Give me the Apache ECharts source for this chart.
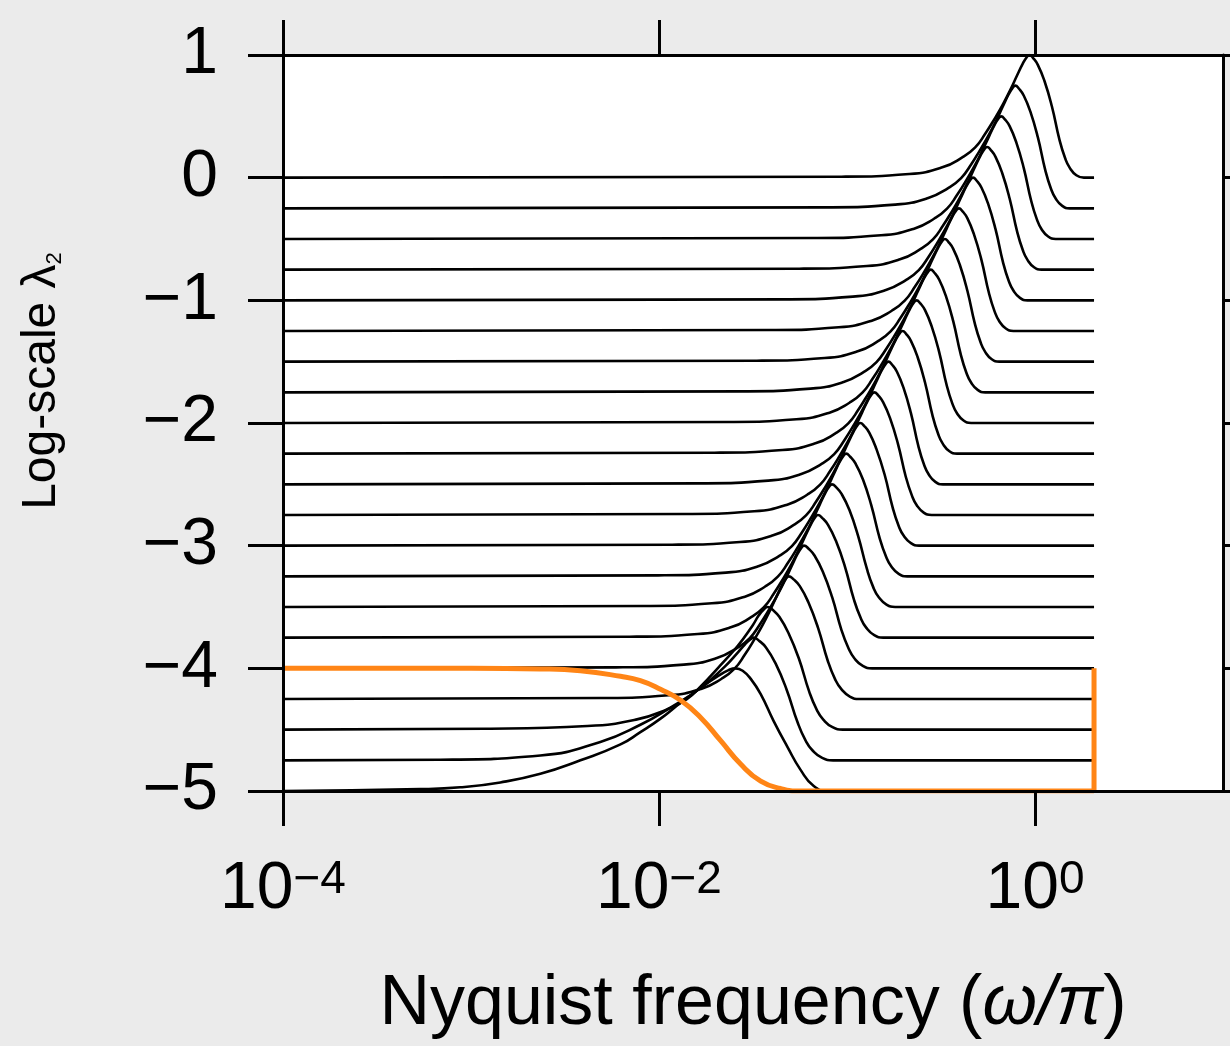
<!DOCTYPE html>
<html><head><meta charset="utf-8">
<script src="https://cdn.jsdelivr.net/npm/echarts@6/dist/echarts.min.js"></script>
<style>html,body{margin:0;padding:0;background:#ebebeb;}#c{width:1230px;height:1046px;}</style>
</head><body><div id="c"></div>
<script>
// x values are log10(omega/pi) exponents; y values are log10(lambda2)
const xTickValues = [1e-4, 1e-2, 1];
const yTickValues = [-5, -4, -3, -2, -1, 0, 1];
const xAxisTitle = 'Nyquist frequency';
const yAxisTitle = 'Log-scale λ';

const c0 = [[-4,0],[-1.030,0.008],[-0.669,0.03],[-0.493,0.084],[-0.387,0.165],[-0.318,0.247],[-0.264,0.36],[-0.211,0.49],[-0.170,0.6],[-0.130,0.72],[-0.095,0.835],[-0.065,0.93],[-0.045,0.98],[-0.030,1],[-0.010,0.975],[0.015,0.92],[0.050,0.79],[0.090,0.58],[0.130,0.31],[0.160,0.16],[0.185,0.08],[0.220,0.02],[0.260,0],[0.314,0]];
const c1 = [[-4,-0.25],[-1.105,-0.242],[-0.744,-0.22],[-0.568,-0.166],[-0.462,-0.085],[-0.393,-0.003],[-0.339,0.11],[-0.286,0.24],[-0.245,0.35],[-0.205,0.47],[-0.170,0.585],[-0.140,0.68],[-0.120,0.73],[-0.105,0.75],[-0.085,0.725],[-0.060,0.67],[-0.025,0.54],[0.015,0.33],[0.055,0.06],[0.085,-0.09],[0.110,-0.17],[0.145,-0.23],[0.185,-0.25],[0.314,-0.25]];
const c2 = [[-4,-0.5],[-1.180,-0.492],[-0.819,-0.47],[-0.643,-0.416],[-0.537,-0.335],[-0.468,-0.253],[-0.414,-0.14],[-0.361,-0.01],[-0.320,0.1],[-0.280,0.22],[-0.245,0.335],[-0.215,0.43],[-0.195,0.48],[-0.180,0.5],[-0.160,0.475],[-0.135,0.42],[-0.100,0.29],[-0.060,0.08],[-0.020,-0.19],[0.010,-0.34],[0.035,-0.42],[0.070,-0.48],[0.110,-0.5],[0.314,-0.5]];
const c3 = [[-4,-0.75],[-1.255,-0.742],[-0.894,-0.72],[-0.718,-0.666],[-0.612,-0.585],[-0.543,-0.503],[-0.489,-0.39],[-0.436,-0.26],[-0.395,-0.15],[-0.355,-0.03],[-0.320,0.085],[-0.290,0.18],[-0.270,0.23],[-0.255,0.25],[-0.235,0.225],[-0.210,0.17],[-0.175,0.04],[-0.135,-0.17],[-0.095,-0.44],[-0.065,-0.59],[-0.040,-0.67],[-0.005,-0.73],[0.035,-0.75],[0.314,-0.75]];
const c4 = [[-4,-1],[-1.330,-0.992],[-0.969,-0.97],[-0.793,-0.916],[-0.687,-0.835],[-0.618,-0.753],[-0.564,-0.64],[-0.511,-0.51],[-0.470,-0.4],[-0.430,-0.28],[-0.395,-0.165],[-0.365,-0.07],[-0.345,-0.02],[-0.330,0],[-0.310,-0.025],[-0.285,-0.08],[-0.250,-0.21],[-0.210,-0.42],[-0.170,-0.69],[-0.140,-0.84],[-0.115,-0.92],[-0.080,-0.98],[-0.040,-1],[0.314,-1]];
const c5 = [[-4,-1.25],[-1.405,-1.242],[-1.044,-1.22],[-0.868,-1.166],[-0.762,-1.085],[-0.693,-1.003],[-0.639,-0.89],[-0.586,-0.76],[-0.545,-0.65],[-0.505,-0.53],[-0.470,-0.415],[-0.440,-0.32],[-0.420,-0.27],[-0.405,-0.25],[-0.385,-0.275],[-0.360,-0.33],[-0.325,-0.46],[-0.285,-0.67],[-0.245,-0.94],[-0.215,-1.09],[-0.190,-1.17],[-0.155,-1.23],[-0.115,-1.25],[0.314,-1.25]];
const c6 = [[-4,-1.5],[-1.480,-1.492],[-1.119,-1.47],[-0.943,-1.416],[-0.837,-1.335],[-0.768,-1.253],[-0.714,-1.14],[-0.661,-1.01],[-0.620,-0.9],[-0.580,-0.78],[-0.545,-0.665],[-0.515,-0.57],[-0.495,-0.52],[-0.480,-0.5],[-0.460,-0.525],[-0.435,-0.58],[-0.400,-0.71],[-0.360,-0.92],[-0.320,-1.19],[-0.290,-1.34],[-0.265,-1.42],[-0.230,-1.48],[-0.190,-1.5],[0.314,-1.5]];
const c7 = [[-4,-1.75],[-1.555,-1.742],[-1.194,-1.72],[-1.018,-1.666],[-0.912,-1.585],[-0.843,-1.503],[-0.789,-1.39],[-0.736,-1.26],[-0.695,-1.15],[-0.655,-1.03],[-0.620,-0.915],[-0.590,-0.82],[-0.570,-0.77],[-0.555,-0.75],[-0.535,-0.775],[-0.510,-0.83],[-0.475,-0.96],[-0.435,-1.17],[-0.395,-1.44],[-0.365,-1.59],[-0.340,-1.67],[-0.305,-1.73],[-0.265,-1.75],[0.314,-1.75]];
const c8 = [[-4,-2],[-1.630,-1.992],[-1.269,-1.97],[-1.093,-1.916],[-0.987,-1.835],[-0.918,-1.753],[-0.864,-1.64],[-0.811,-1.51],[-0.770,-1.4],[-0.730,-1.28],[-0.695,-1.165],[-0.665,-1.07],[-0.645,-1.02],[-0.630,-1],[-0.610,-1.025],[-0.585,-1.08],[-0.550,-1.21],[-0.510,-1.42],[-0.470,-1.69],[-0.440,-1.84],[-0.415,-1.92],[-0.380,-1.98],[-0.340,-2],[0.314,-2]];
const c9 = [[-4,-2.25],[-1.705,-2.242],[-1.344,-2.22],[-1.168,-2.166],[-1.062,-2.085],[-0.993,-2.003],[-0.939,-1.89],[-0.886,-1.76],[-0.845,-1.65],[-0.805,-1.53],[-0.770,-1.415],[-0.740,-1.32],[-0.720,-1.27],[-0.705,-1.25],[-0.685,-1.275],[-0.660,-1.33],[-0.625,-1.46],[-0.585,-1.67],[-0.545,-1.94],[-0.515,-2.09],[-0.490,-2.17],[-0.455,-2.23],[-0.415,-2.25],[0.314,-2.25]];
const c10 = [[-4,-2.5],[-1.780,-2.492],[-1.419,-2.47],[-1.243,-2.416],[-1.137,-2.335],[-1.068,-2.253],[-1.014,-2.14],[-0.961,-2.01],[-0.920,-1.9],[-0.880,-1.78],[-0.845,-1.665],[-0.815,-1.57],[-0.795,-1.52],[-0.780,-1.5],[-0.760,-1.525],[-0.735,-1.58],[-0.700,-1.71],[-0.660,-1.92],[-0.620,-2.19],[-0.590,-2.34],[-0.565,-2.42],[-0.530,-2.48],[-0.490,-2.5],[0.314,-2.5]];
const c11 = [[-4,-2.75],[-1.855,-2.742],[-1.494,-2.72],[-1.318,-2.666],[-1.212,-2.585],[-1.143,-2.503],[-1.089,-2.39],[-1.036,-2.26],[-0.995,-2.15],[-0.955,-2.03],[-0.920,-1.915],[-0.890,-1.82],[-0.870,-1.77],[-0.855,-1.75],[-0.834,-1.775],[-0.808,-1.83],[-0.771,-1.96],[-0.729,-2.17],[-0.687,-2.44],[-0.655,-2.59],[-0.629,-2.67],[-0.592,-2.73],[-0.550,-2.75],[0.314,-2.75]];
const c12 = [[-4,-3],[-1.930,-2.992],[-1.569,-2.97],[-1.393,-2.916],[-1.287,-2.835],[-1.218,-2.753],[-1.164,-2.64],[-1.111,-2.51],[-1.070,-2.4],[-1.030,-2.28],[-0.995,-2.165],[-0.965,-2.07],[-0.945,-2.02],[-0.930,-2],[-0.908,-2.025],[-0.881,-2.08],[-0.844,-2.21],[-0.800,-2.42],[-0.757,-2.69],[-0.725,-2.84],[-0.698,-2.92],[-0.660,-2.98],[-0.617,-3],[0.314,-3]];
const c13 = [[-4,-3.25],[-2.005,-3.242],[-1.644,-3.22],[-1.468,-3.166],[-1.362,-3.085],[-1.293,-3.003],[-1.239,-2.89],[-1.186,-2.76],[-1.145,-2.65],[-1.105,-2.53],[-1.070,-2.415],[-1.040,-2.32],[-1.020,-2.27],[-1.005,-2.25],[-0.983,-2.275],[-0.955,-2.33],[-0.915,-2.46],[-0.871,-2.67],[-0.826,-2.94],[-0.792,-3.09],[-0.764,-3.17],[-0.725,-3.23],[-0.680,-3.25],[0.314,-3.25]];
const c14 = [[-4,-3.5],[-2.080,-3.492],[-1.719,-3.47],[-1.543,-3.416],[-1.437,-3.335],[-1.368,-3.253],[-1.314,-3.14],[-1.261,-3.01],[-1.220,-2.9],[-1.180,-2.78],[-1.145,-2.665],[-1.115,-2.57],[-1.095,-2.52],[-1.080,-2.5],[-1.057,-2.525],[-1.028,-2.58],[-0.987,-2.71],[-0.941,-2.92],[-0.894,-3.19],[-0.860,-3.34],[-0.831,-3.42],[-0.790,-3.48],[-0.744,-3.5],[0.314,-3.5]];
const c15 = [[-4,-3.75],[-2.155,-3.742],[-1.794,-3.72],[-1.618,-3.666],[-1.512,-3.585],[-1.443,-3.503],[-1.389,-3.39],[-1.336,-3.26],[-1.295,-3.15],[-1.255,-3.03],[-1.220,-2.915],[-1.190,-2.82],[-1.170,-2.77],[-1.155,-2.75],[-1.131,-2.775],[-1.101,-2.83],[-1.059,-2.96],[-1.011,-3.17],[-0.963,-3.44],[-0.927,-3.59],[-0.897,-3.67],[-0.855,-3.73],[-0.807,-3.75],[0.314,-3.75]];
const c16 = [[-4,-4],[-2.229,-3.992],[-1.868,-3.97],[-1.692,-3.916],[-1.586,-3.835],[-1.517,-3.753],[-1.463,-3.64],[-1.410,-3.51],[-1.369,-3.4],[-1.329,-3.28],[-1.294,-3.165],[-1.264,-3.07],[-1.244,-3.02],[-1.229,-3],[-1.204,-3.025],[-1.173,-3.08],[-1.129,-3.21],[-1.079,-3.42],[-1.029,-3.69],[-0.991,-3.84],[-0.960,-3.92],[-0.916,-3.98],[-0.866,-4],[0.314,-4]];
const c17 = [[-4,-4.25],[-2.310,-4.242],[-1.949,-4.22],[-1.773,-4.166],[-1.667,-4.085],[-1.598,-4.003],[-1.544,-3.89],[-1.491,-3.76],[-1.450,-3.65],[-1.410,-3.53],[-1.375,-3.415],[-1.345,-3.32],[-1.325,-3.27],[-1.310,-3.25],[-1.284,-3.275],[-1.251,-3.33],[-1.206,-3.46],[-1.154,-3.67],[-1.102,-3.94],[-1.063,-4.09],[-1.030,-4.17],[-0.985,-4.23],[-0.933,-4.25],[0.314,-4.25]];
const c18 = [[-4,-4.5],[-2.922,-4.492],[-2.381,-4.47],[-2.117,-4.416],[-1.958,-4.335],[-1.854,-4.253],[-1.773,-4.14],[-1.694,-4.01],[-1.583,-3.82],[-1.502,-3.65],[-1.470,-3.57],[-1.443,-3.52],[-1.422,-3.5],[-1.394,-3.525],[-1.360,-3.58],[-1.312,-3.71],[-1.256,-3.92],[-1.201,-4.19],[-1.160,-4.34],[-1.125,-4.42],[-1.077,-4.48],[-1.022,-4.5],[0.314,-4.5]];
const c19 = [[-4,-4.75],[-3.164,-4.745],[-2.631,-4.71],[-2.312,-4.6],[-2.099,-4.46],[-1.939,-4.32],[-1.779,-4.16],[-1.646,-3.98],[-1.580,-3.87],[-1.540,-3.8],[-1.515,-3.765],[-1.497,-3.75],[-1.468,-3.775],[-1.431,-3.83],[-1.380,-3.96],[-1.322,-4.17],[-1.263,-4.44],[-1.220,-4.59],[-1.183,-4.67],[-1.132,-4.73],[-1.074,-4.75],[0.314,-4.75]];
const c20 = [[-4,-5],[-3.270,-4.985],[-3.057,-4.97],[-2.844,-4.93],[-2.631,-4.86],[-2.418,-4.75],[-2.205,-4.62],[-2.099,-4.52],[-1.992,-4.41],[-1.885,-4.28],[-1.779,-4.16],[-1.683,-4.06],[-1.630,-4.015],[-1.593,-4.0],[-1.555,-4.02],[-1.510,-4.09],[-1.459,-4.21],[-1.390,-4.43],[-1.317,-4.64],[-1.246,-4.83],[-1.177,-4.96],[-1.104,-5.0],[0.314,-5]];
const orangeCurve = [[-4,-4],[-3.0,-4.0],[-2.631,-4.005],[-2.418,-4.02],[-2.205,-4.065],[-2.099,-4.1],[-1.992,-4.17],[-1.885,-4.26],[-1.779,-4.40],[-1.672,-4.59],[-1.566,-4.78],[-1.459,-4.92],[-1.353,-4.98],[-1.246,-5.0],[0.314,-5.0]];
const orangeEdge = [[0.314,-5],[0.314,-4]];

const blackCurves = [c0,c1,c2,c3,c4,c5,c6,c7,c8,c9,c10,c11,c12,c13,c14,c15,c16,c17,c18,c19,c20];

const toXY = arr => arr.map(p => [Math.pow(10, p[0]), p[1]]);
const FONT = 'Liberation Sans';
const minus = s => String(s).replace('-', '\u2212');

const axisCommon = {
  axisLine: {show: true, onZero: false, lineStyle: {color: '#000', width: 3}},
  splitLine: {show: false},
  z: 10
};

const series = blackCurves.map(c => ({
  type: 'line', data: toXY(c), showSymbol: false, smooth: 0.5,
  lineStyle: {color: '#000', width: 2.6}, silent: true, animation: false
}));
series.push({type: 'line', data: toXY(orangeCurve), showSymbol: false, smooth: 0.5,
  lineStyle: {color: '#ff8516', width: 5}, animation: false});
series.push({type: 'line', data: toXY(orangeEdge), showSymbol: false,
  lineStyle: {color: '#ff8516', width: 5}, animation: false});

const chart = echarts.init(document.getElementById('c'), null, {renderer: 'canvas'});
chart.setOption({
  backgroundColor: '#ebebeb',
  animation: false,
  grid: {left: 283, top: 55, right: 7, bottom: 255, show: true, backgroundColor: '#fff', borderWidth: 0},
  xAxis: [
    Object.assign({}, axisCommon, {
      type: 'log', logBase: 10, min: 1e-4, max: 10, position: 'bottom',
      axisTick: {show: true, length: 35, lineStyle: {color: '#000', width: 3}, customValues: xTickValues},
      axisLabel: {
        customValues: xTickValues, margin: 66,
        formatter: v => '{b|10}{s|' + minus(Math.round(Math.log10(v))) + '}',
        rich: {
          b: {fontSize: 66, fontFamily: FONT, color: '#000', lineHeight: 66},
          s: {fontSize: 46, fontFamily: FONT, color: '#000', lineHeight: 32, verticalAlign: 'top'}
        }
      },
      name: '{n|' + xAxisTitle + ' (}{i|ω/π}{n|)}', nameLocation: 'middle', nameGap: 179,
      nameTextStyle: {rich: {
        n: {fontSize: 70, fontFamily: FONT, color: '#000', lineHeight: 70},
        i: {fontSize: 70, fontFamily: FONT, fontStyle: 'italic', color: '#000', lineHeight: 70}
      }}
    }),
    Object.assign({}, axisCommon, {
      type: 'log', logBase: 10, min: 1e-4, max: 10, position: 'top',
      axisTick: {show: true, length: 35, lineStyle: {color: '#000', width: 3}, customValues: xTickValues},
      axisLabel: {show: false}
    })
  ],
  yAxis: [
    Object.assign({}, axisCommon, {
      type: 'value', min: -5, max: 1, interval: 1, position: 'left',
      axisTick: {show: true, length: 35, lineStyle: {color: '#000', width: 3}},
      axisLabel: {fontSize: 66, fontFamily: FONT, color: '#000', margin: 65, formatter: v => minus(v)}
    }),
    Object.assign({}, axisCommon, {
      type: 'value', min: -5, max: 1, interval: 1, position: 'right',
      axisTick: {show: true, length: 35, lineStyle: {color: '#000', width: 3}},
      axisLabel: {show: false}
    })
  ],
  graphic: [{
    type: 'text', x: 42, y: 381, rotation: Math.PI / 2,
    style: {
      text: '{a|' + yAxisTitle + '}{s|2}', align: 'center', verticalAlign: 'middle',
      rich: {
        a: {fontSize: 48, fontFamily: FONT, fill: '#000', lineHeight: 48},
        s: {fontSize: 22, fontFamily: FONT, fill: '#000', lineHeight: 22, verticalAlign: 'bottom'}
      }
    }
  }],
  series: series
});
</script></body></html>
